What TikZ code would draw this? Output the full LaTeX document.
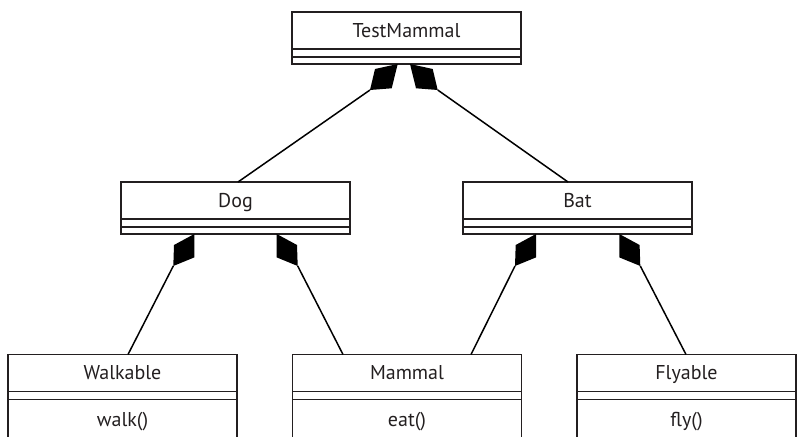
\documentclass[tikz,border=0pt]{standalone}
\usepackage{fontspec}
\setmainfont{PT Sans}
\usepackage{tikz}
\usetikzlibrary{positioning}
\definecolor{ink}{HTML}{231F20}
\tikzset{
x=1pt, y=1pt,
ink,
text=ink,
compartment/.style={%
    rectangle,
    draw=ink,
    line width=1.5pt,
    outer sep=0pt,
    inner sep=0pt,
    minimum width=229pt,
    % Font
    font=\fontsize{20}{24}\selectfont
},
classname/.style={compartment, minimum height=37pt, text height=14pt, text depth=0pt},
attrbox/.style={compartment, minimum height=8pt},
opsbox/.style={compartment, minimum height=7pt},
methodbox/.style={compartment, minimum height=40pt, text height=14pt, text depth=0pt},
link/.style={line width=1.5pt},
pics/topcomp/.style={code={\fill (0,0) -- (-22.7,-5) -- (-27.7,-26) -- (-6,-24.3) -- cycle;}},
pics/midcomp/.style={code={\fill (0,0) -- (-20.3,-11) -- (-21,-32) -- (0,-23.4) -- cycle;}},
}

\begin{document}
\begin{tikzpicture}
	\useasboundingbox (0,0) rectangle (797,436);
	\clip (0,0) rectangle (797,436);

	% classes
	\node[classname] (testmammal) at (406.5,405.5) {TestMammal};
	\node[attrbox, below=0pt of testmammal] (testmammalattr) {};
	\node[opsbox, below=0pt of testmammalattr] (testmammalops) {};

	\node[classname] (dog) at (235.5,235.5) {Dog};
	\node[attrbox, below=0pt of dog] (dogattr) {};
	\node[opsbox, below=0pt of dogattr] (dogops) {};

	\node[classname] (bat) at (577.5,235.5) {Bat};
	\node[attrbox, below=0pt of bat] (batattr) {};
	\node[opsbox, below=0pt of batattr] (batops) {};

	\node[classname] (walkable) at (122.5,63) {Walkable};
	\node[attrbox, below=0pt of walkable] (walkableattr) {};
	\node[methodbox, below=0pt of walkableattr] (walkableops) {walk()};

	\node[classname] (mammal) at (407,63) {Mammal};
	\node[attrbox, below=0pt of mammal] (mammalattr) {};
	\node[methodbox, below=0pt of mammalattr] (mammalops) {eat()};

	\node[classname, minimum width=219pt] (flyable) at (686.5,63) {Flyable};
	\node[attrbox, minimum width=219pt, below=0pt of flyable] (flyableattr) {};
	\node[methodbox, minimum width=219pt, below=0pt of flyableattr] (flyableops) {fly()};

	% composition diamonds
	\coordinate (tm-l) at ([xshift=-8.8pt]testmammalops.south);
	\coordinate (tm-r) at ([xshift=3.5pt]testmammalops.south);
	\coordinate (dog-l) at ([xshift=-41.2pt]dogops.south);
	\coordinate (dog-r) at ([xshift=41.2pt]dogops.south);
	\coordinate (bat-l) at ([xshift=-41.5pt]batops.south);
	\coordinate (bat-r) at ([xshift=41.8pt]batops.south);

	\pic at (tm-l) {topcomp};
	\pic[xscale=-1] at (tm-r) {topcomp};
	\pic at (dog-l) {midcomp};
	\pic[xscale=-1] at (dog-r) {midcomp};
	\pic at (bat-l) {midcomp};
	\pic[xscale=-1] at (bat-r) {midcomp};

	\coordinate (tm-l-end) at ([shift={(-27.7,-26)}]tm-l);
	\coordinate (tm-r-end) at ([shift={(27.7,-26)}]tm-r);
	\coordinate (dog-l-end) at ([shift={(-21,-32)}]dog-l);
	\coordinate (dog-r-end) at ([shift={(21,-32)}]dog-r);
	\coordinate (bat-l-end) at ([shift={(-21,-32)}]bat-l);
	\coordinate (bat-r-end) at ([shift={(21,-32)}]bat-r);

	% connectors
	\draw[link] (tm-l-end) -- ([xshift=2.5pt]dog.north);
	\draw[link] (tm-r-end) -- ([xshift=-9.5pt]bat.north);
	\draw[link] (dog-l-end) -- ([xshift=5.5pt]walkable.north);
	\draw[link] (dog-r-end) -- ([xshift=-64pt]mammal.north);
	\draw[link] (bat-l-end) -- ([xshift=64pt]mammal.north);
	\draw[link] (bat-r-end) -- ([xshift=-0.5pt]flyable.north);
\end{tikzpicture}
\end{document}
